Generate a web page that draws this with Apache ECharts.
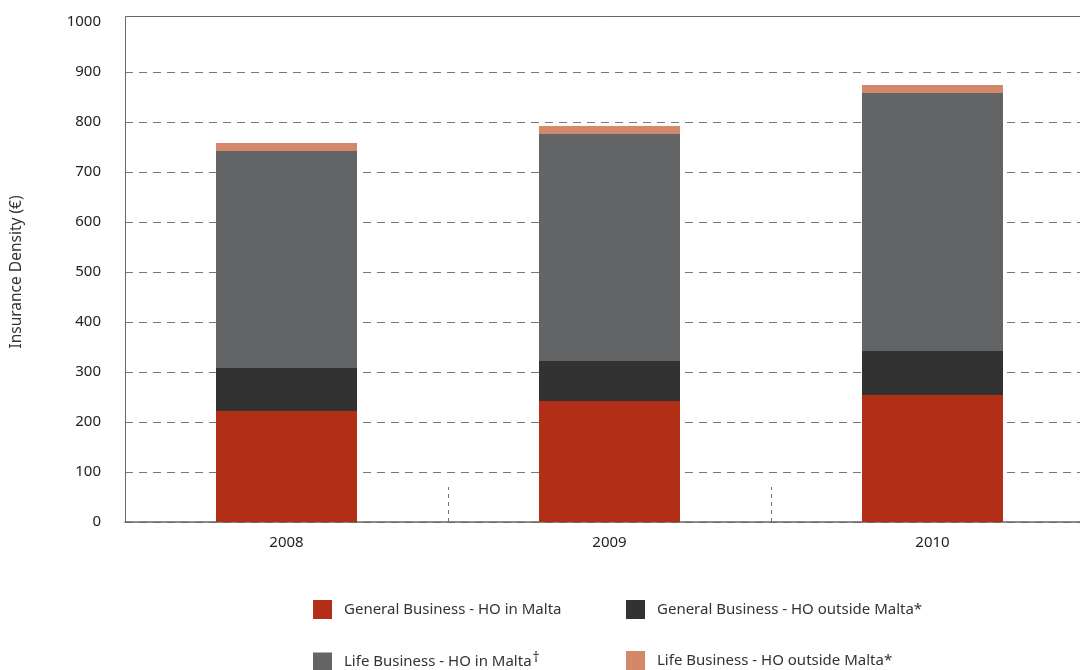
<!DOCTYPE html>
<html>
<head>
<meta charset="utf-8">
<title>Insurance Density</title>
<script src="https://cdn.jsdelivr.net/npm/echarts@6/dist/echarts.min.js"></script>
<style>
  html, body { margin: 0; padding: 0; background: #ffffff; }
  #chart { width: 1080px; height: 670px; }
</style>
</head>
<body>
<div id="chart"></div>
<script>
// Insurance density by year, stacked by business type (€)
const years = ['2008', '2009', '2010'];
const generalMalta = [222, 242, 254];
const generalOutside = [86, 80, 88];
const lifeMalta = [434, 454, 516];
const lifeOutside = [16, 16, 16];

const seriesNames = [
  'General Business - HO in Malta',
  'General Business - HO outside Malta*',
  'Life Business - HO in Malta',
  'Life Business - HO outside Malta*'
];
const seriesColors = ['#B22E17', '#333233', '#636466', '#D4886A'];
const seriesData = [generalMalta, generalOutside, lifeMalta, lifeOutside];

const yTicks = { min: 0, max: 1000, step: 100 };

const FONT = '"Noto Sans", "Open Sans", sans-serif';
const chart = echarts.init(document.getElementById('chart'), null, { renderer: 'canvas' });

function legendAt(name, left, top) {
  return {
    data: [name],
    left: left,
    top: top,
    icon: 'rect',
    itemWidth: 19,
    itemHeight: 19,
    selectedMode: false,
    formatter: function (n) {
      return n === 'Life Business - HO in Malta' ? '{n|' + n + '}{s|†}' : '{n|' + n + '}';
    },
    textStyle: {
      fontFamily: FONT,
      fontSize: 15,
      color: '#333333',
      padding: [0, 0, 0, 7],
      rich: {
        n: { fontFamily: FONT, fontSize: 15, color: '#333333' },
        s: { fontFamily: FONT, fontSize: 14, color: '#333333', padding: [0, 0, 8, 1] }
      }
    }
  };
}

const option = {
  backgroundColor: '#ffffff',
  animation: false,
  grid: {
    left: 125, top: 22, width: 969, height: 500,
    containLabel: false,
    outerBoundsMode: 'none'
  },
  legend: [
    legendAt(seriesNames[0], 308, 595),
    legendAt(seriesNames[1], 621, 595),
    legendAt(seriesNames[2], 308, 646),
    legendAt(seriesNames[3], 621, 646)
  ],
  xAxis: {
    type: 'category',
    data: years,
    boundaryGap: true,
    axisLine: { show: true, lineStyle: { color: '#666666', width: 1.5 } },
    axisTick: {
      show: true,
      inside: true,
      length: 35,
      lineStyle: { color: '#777777', width: 1, type: [4, 4] }
    },
    axisLabel: { fontFamily: FONT, fontSize: 15, color: '#222222', margin: 13 }
  },
  yAxis: {
    type: 'value',
    min: yTicks.min,
    max: yTicks.max,
    interval: yTicks.step,
    name: 'Insurance Density (€)',
    nameLocation: 'middle',
    nameGap: 100,
    nameTextStyle: { fontFamily: FONT, fontSize: 15.5, color: '#333333' },
    axisLine: { show: true, lineStyle: { color: '#666666', width: 1 } },
    axisTick: { show: false },
    axisLabel: {
      fontFamily: FONT, fontSize: 15, color: '#222222', margin: 24,
      formatter: function (v) { return String(v); }
    },
    splitLine: {
      show: true,
      showMaxLine: false,
      lineStyle: { color: '#777777', width: 1, type: [8, 6] }
    }
  },
  graphic: [
    {
      type: 'polyline',
      silent: true,
      z: 10,
      shape: { points: [[125.5, 522], [125.5, 16.5], [1080, 16.5]] },
      style: { stroke: '#666666', lineWidth: 1, fill: null }
    }
  ],
  series: seriesNames.map(function (name, i) {
    return {
      name: name,
      type: 'bar',
      stack: 'density',
      barWidth: 141,
      data: seriesData[i],
      itemStyle: { color: seriesColors[i] },
      emphasis: { disabled: true }
    };
  })
};

chart.setOption(option);
</script>
</body>
</html>
